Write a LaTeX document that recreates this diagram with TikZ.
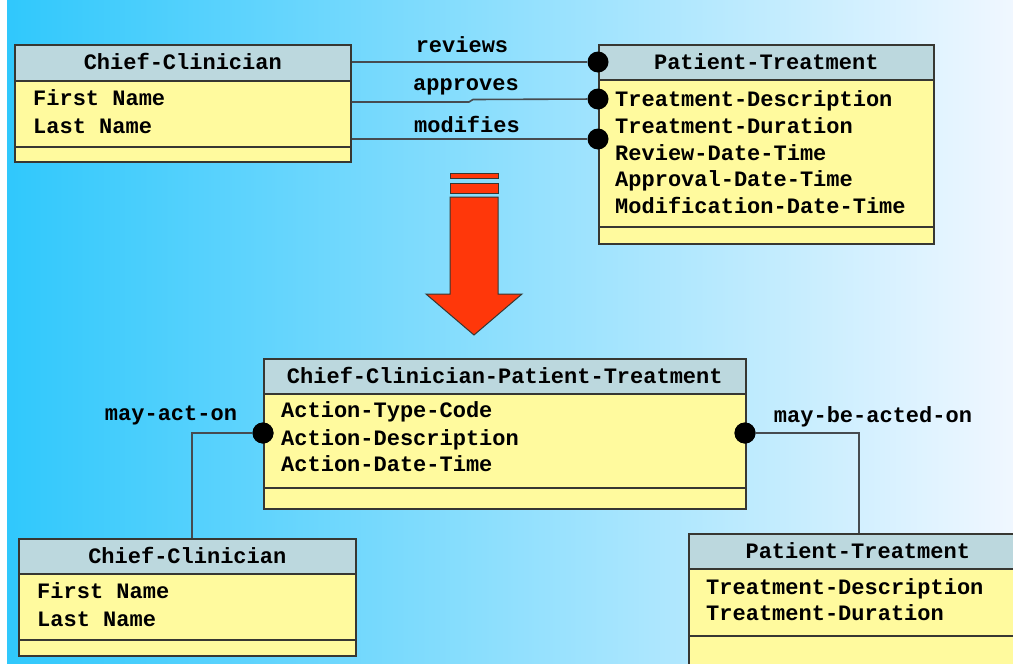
\documentclass[tikz,border=0pt]{standalone}
\usepackage{fontspec}
\setmainfont{Liberation Mono}
\definecolor{bgcyan}{RGB}{48,200,252}
\definecolor{bgmid}{RGB}{178,222,255}
\definecolor{bgright}{RGB}{240,247,255}
\definecolor{hdrfill}{RGB}{188,216,222}
\definecolor{bodyfill}{RGB}{255,250,158}
\definecolor{edgecol}{RGB}{55,55,50}
\definecolor{linkcol}{RGB}{70,75,80}
\definecolor{arrowred}{RGB}{255,55,10}
\tikzset{
  x=1pt, y=-1pt,
  txt/.style={font=\fontsize{22}{24}\selectfont\bfseries, text=black, inner sep=0pt,
              text height=17pt, text depth=3pt},
  ehead/.style={txt, draw=edgecol, line width=1.6pt, fill=hdrfill, anchor=north west},
  ebody/.style={draw=edgecol, line width=1.6pt, fill=bodyfill, anchor=north west, inner sep=0pt},
  attr/.style={txt, anchor=west},
  lbl/.style={txt},
  sepline/.style={draw=edgecol, line width=1.6pt},
  link/.style={draw=linkcol, line width=1.6pt},
  dot/.style={circle, fill=black, inner sep=0pt, minimum size=21pt}
}
\begin{document}
\begin{tikzpicture}
\useasboundingbox (0,0) rectangle (1013,664);
\clip (0,0) rectangle (1013,664);
% background: white edge, then cyan fading to white
\fill[white] (0,0) rectangle (1013,664);
\shade[left color=bgcyan, middle color=bgmid, right color=bgright] (7,0) rectangle (1013,664);

% ---- upper Chief-Clinician ----
\node[ebody, minimum width=336pt, minimum height=117pt] (cc1b) at (14,44) {};
\node[ehead, minimum width=336pt, minimum height=36pt] (cc1) at (14,44) {Chief-Clinician};
\draw[sepline] (14,147) -- (350,147);
\node[attr] (cc1a1) at (33,98) {First Name};
\node[attr] (cc1a2) at (33,126) {Last Name};

% ---- upper Patient-Treatment ----
\node[ebody, minimum width=335pt, minimum height=199pt] (pt1b) at (598,44) {};
\node[ehead, minimum width=335pt, minimum height=35pt] (pt1) at (598,44) {Patient-Treatment};
\draw[sepline] (598,227) -- (933,227);
\node[attr] (pt1a1) at (615,99) {Treatment-Description};
\node[attr] (pt1a2) at (615,126) {Treatment-Duration};
\node[attr] (pt1a3) at (615,153) {Review-Date-Time};
\node[attr] (pt1a4) at (615,179) {Approval-Date-Time};
\node[attr] (pt1a5) at (615,206) {Modification-Date-Time};

% ---- upper relationships ----
\node[dot] (d1) at (598,62) {};
\node[dot] (d2) at (598,99) {};
\node[dot] (d3) at (598,139) {};
\coordinate (j1) at (469,102);
\coordinate (j2) at (473,99.5);
\draw[link] (cc1b.east |- d1) -- (d1);
\draw[link] (cc1b.east |- j1) -- (j1) -- (j2) -- (d2);
\draw[link] (cc1b.east |- d3) -- (d3);
\node[lbl] (l1) at (462,45) {reviews};
\node[lbl] (l2) at (466,83) {approves};
\node[lbl] (l3) at (467,125) {modifies};

% ---- transformation arrow ----
\begin{scope}[fill=arrowred, draw=edgecol, line width=1pt]
  \filldraw (450,173) rectangle (498,178);
  \filldraw (450,183) rectangle (498,193);
  \filldraw (450,197) -- (498,197) -- (498,294) -- (522,294) -- (474,335)
            -- (426,294) -- (450,294) -- cycle;
\end{scope}

% ---- associative entity ----
\node[ebody, minimum width=482pt, minimum height=150pt] (cpb) at (263,358) {};
\node[ehead, minimum width=482pt, minimum height=35pt] (cp) at (263,358) {Chief-Clinician-Patient-Treatment};
\draw[sepline] (263,488) -- (745,488);
\node[attr] (cpa1) at (281,410) {Action-Type-Code};
\node[attr] (cpa2) at (281,438) {Action-Description};
\node[attr] (cpa3) at (281,464) {Action-Date-Time};

% ---- lower Chief-Clinician ----
\node[ebody, minimum width=337pt, minimum height=117pt] (cc2b) at (18,538) {};
\node[ehead, minimum width=337pt, minimum height=35pt] (cc2) at (18,538) {Chief-Clinician};
\draw[sepline] (18,640) -- (355,640);
\node[attr] (cc2a1) at (37,591) {First Name};
\node[attr] (cc2a2) at (37,619) {Last Name};

% ---- lower Patient-Treatment ----
\node[ebody, minimum width=338pt, minimum height=160pt] (pt2b) at (688,533) {};
\node[ehead, minimum width=338pt, minimum height=35pt] (pt2) at (688,533) {Patient-Treatment};
\draw[sepline] (688,636) -- (1026,636);
\node[attr] (pt2a1) at (706,587) {Treatment-Description};
\node[attr] (pt2a2) at (706,613) {Treatment-Duration};

% ---- lower relationships ----
\node[dot] (d4) at (263,433) {};
\node[dot] (d5) at (745,433) {};
\coordinate (k1) at (192,433);
\coordinate (k2) at (859,433);
\draw[link] (d4) -- (k1) -- (k1 |- cc2.north);
\draw[link] (d5) -- (k2) -- (k2 |- pt2.north);
\node[dot] at (263,433) {};
\node[dot] at (745,433) {};
\node[lbl] (l4) at (171,413) {may-act-on};
\node[lbl] (l5) at (873,415) {may-be-acted-on};
\end{tikzpicture}
\end{document}
